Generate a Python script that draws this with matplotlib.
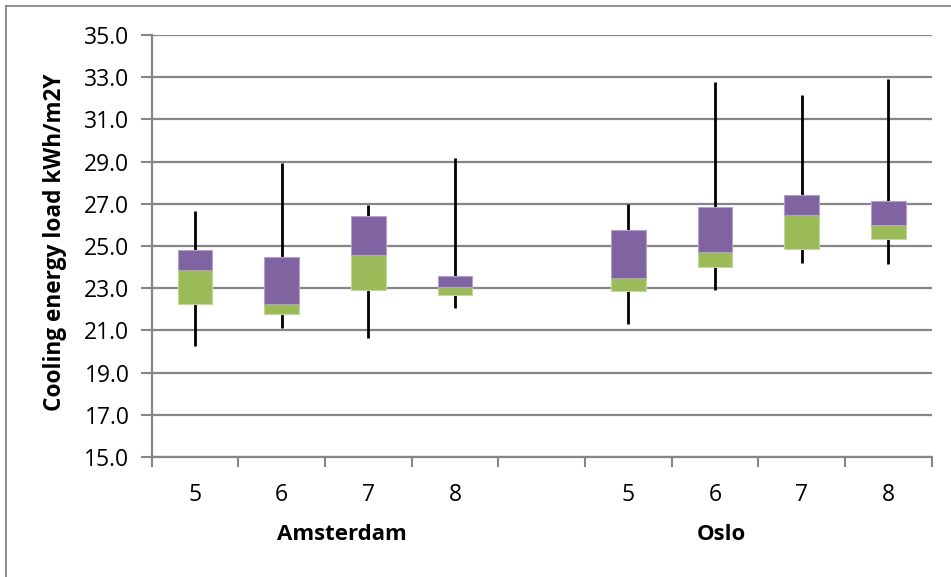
import matplotlib
matplotlib.use("Agg")
import matplotlib.pyplot as plt
from matplotlib.lines import Line2D
import numpy as np

# Window-to-wall ratios per city (the blank slot separates the two groups)
cities = ["Amsterdam", "Oslo"]
categories = ["5", "6", "7", "8", "", "5", "6", "7", "8"]

# Five-number summaries per category (None for the spacer slot)
minimum = [20.25, 21.10, 20.65, 22.05, None, 21.30, 22.92, 24.18, 24.13]
q1      = [22.25, 21.78, 22.92, 22.68, None, 22.85, 24.00, 24.85, 25.32]
median  = [23.85, 22.25, 24.55, 23.05, None, 23.47, 24.73, 26.47, 26.00]
q3      = [24.80, 24.48, 26.42, 23.57, None, 25.78, 26.84, 27.43, 27.13]
maximum = [26.65, 28.95, 26.95, 29.18, None, 27.00, 32.78, 32.18, 32.90]

ytick_values = [15.0, 17.0, 19.0, 21.0, 23.0, 25.0, 27.0, 29.0, 31.0, 33.0, 35.0]

GREEN = "#9BBB59"
PURPLE = "#8064A2"
GRID = "#868686"
FONT = ["Open Sans", "DejaVu Sans"]

plt.rcParams["font.family"] = FONT

fig = plt.figure(figsize=(9.51, 5.77), dpi=100)
ax = fig.add_axes([151.7 / 951, 1 - 457 / 577, 780 / 951, 422 / 577])

idx = [i for i, v in enumerate(q1) if v is not None]
x = np.array(idx, dtype=float)
lo = np.array([minimum[i] for i in idx])
b = np.array([q1[i] for i in idx])
m = np.array([median[i] for i in idx])
t = np.array([q3[i] for i in idx])
hi = np.array([maximum[i] for i in idx])

# whiskers
ax.vlines(x, lo, hi, colors="black", linewidth=2.0, zorder=2)
# lower box (q1 -> median) and upper box (median -> q3)
ax.bar(x, m - b, bottom=b, width=0.4, color=GREEN, edgecolor="#C3D69B",
       linewidth=0.8, zorder=3)
ax.bar(x, t - m, bottom=m, width=0.4, color=PURPLE, edgecolor="#B3A2C7",
       linewidth=0.8, zorder=3)

ax.set_xlim(-0.5, len(categories) - 0.5)
ax.set_ylim(15, 35)
ax.set_yticks(ytick_values)
ax.set_yticklabels([f"{v:.1f}" for v in ytick_values], fontsize=16.5)
ax.yaxis.grid(True, color=GRID, linewidth=1.6)
ax.set_axisbelow(True)

# category boundaries carry the tick marks, labels sit at centres
ax.set_xticks(np.arange(len(categories) + 1) - 0.5)
ax.set_xticklabels([])
ax.set_xticks(np.arange(len(categories)), minor=True)
ax.set_xticklabels(categories, minor=True, fontsize=16.5)
ax.tick_params(axis="x", which="minor", length=0, pad=19)
ax.tick_params(axis="x", which="major", length=7, width=1.5, color=GRID)
ax.tick_params(axis="y", length=8, width=1.5, color=GRID, pad=8)

for side in ("top", "right"):
    ax.spines[side].set_visible(False)
for side in ("left", "bottom"):
    ax.spines[side].set_color(GRID)
    ax.spines[side].set_linewidth(1.6)

fig.text(55 / 951, 1 - 242 / 577, "Cooling energy load kWh/m2Y", rotation=90,
         ha="center", va="center", fontsize=16.3, fontweight="bold")

# city group labels below the category labels
for name, xc in zip(cities, [1.70, 6.07]):
    ax.text(xc, -0.1825, name, transform=ax.get_xaxis_transform(),
            ha="center", va="center", fontsize=16, fontweight="bold")

# chart frame
fig.add_artist(Line2D([6 / 951, 6 / 951], [0, 1 - 6 / 577], color=GRID,
                      linewidth=1.3, transform=fig.transFigure))
fig.add_artist(Line2D([6 / 951, 1], [1 - 6 / 577, 1 - 6 / 577], color=GRID,
                      linewidth=1.3, transform=fig.transFigure))

fig.savefig("out.png", dpi=100, facecolor="white")
